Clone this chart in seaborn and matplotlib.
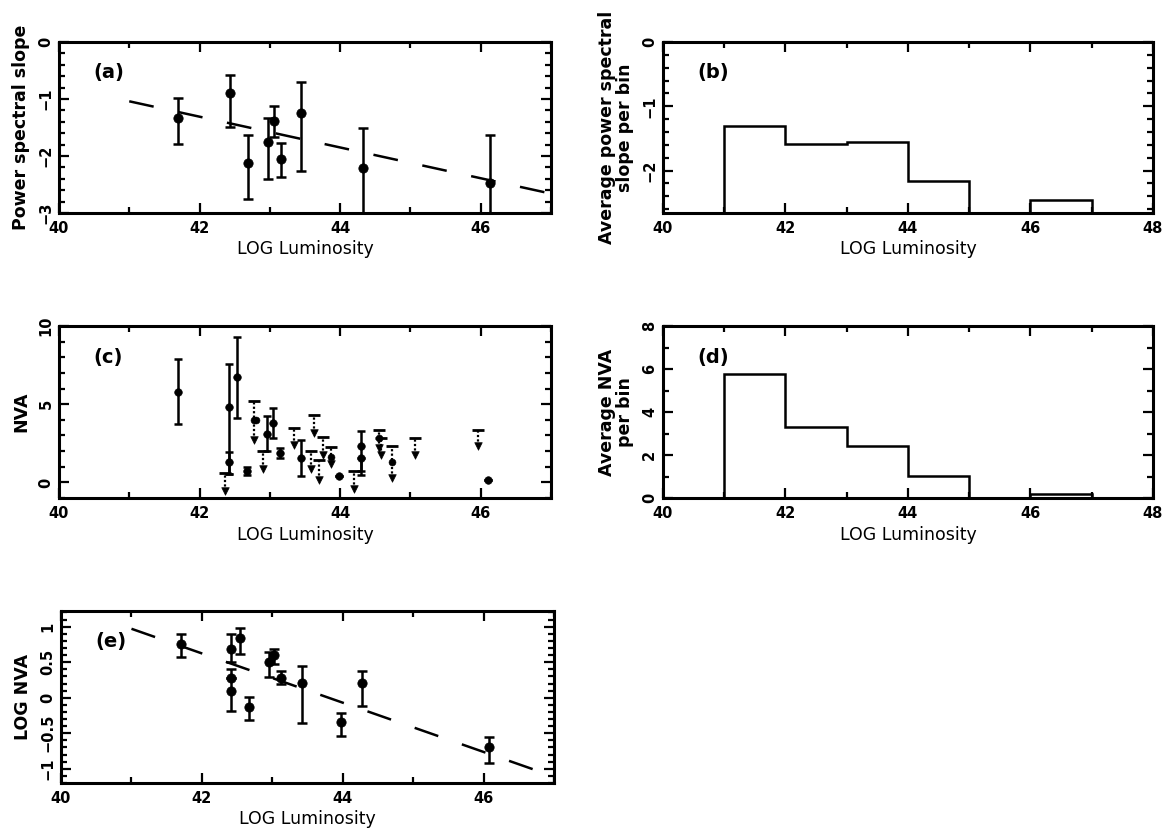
import numpy as np
import matplotlib
matplotlib.use("Agg")
import matplotlib.pyplot as plt
from matplotlib.ticker import MultipleLocator
import seaborn as sns

# ---- data ----
# (a) power spectral slope vs log luminosity
a_x = [41.69, 42.44, 42.69, 42.97, 43.06, 43.16, 43.45, 44.32, 46.13]
a_y = [-1.33, -0.90, -2.13, -1.75, -1.38, -2.06, -1.25, -2.21, -2.47]
a_hi = [-0.99, -0.58, -1.64, -1.33, -1.12, -1.78, -0.71, -1.51, -1.64]
a_lo = [-1.79, -1.49, -2.76, -2.40, -1.66, -2.37, -2.26, -3.30, -3.30]
a_fit_x = [41.0, 47.0]
a_fit_y = [-1.04, -2.66]

# (b) average slope per luminosity bin (nan = empty bin)
bin_edges = [41, 42, 43, 44, 45, 46, 47]
b_vals = [-1.31, -1.58, -1.55, -2.17, np.nan, -2.46]

# (c) NVA: detections (solid) and limits (dotted)
det_x = [41.69, 42.42, 42.42, 42.53, 42.67, 42.96, 43.04, 43.15, 43.44, 43.99, 44.30, 44.30, 46.10]
det_y = [5.77, 4.84, 1.28, 6.72, 0.75, 3.09, 3.83, 1.90, 1.57, 0.43, 2.34, 1.57, 0.17]
det_hi = [7.89, 7.55, 1.96, 9.28, 1.00, 4.26, 4.79, 2.23, 2.72, 0.43, 3.30, 1.57, 0.17]
det_lo = [3.72, 0.53, 0.53, 4.15, 0.50, 2.02, 2.87, 1.55, 0.43, 0.43, 0.47, 0.74, 0.17]
lim_x = [42.36, 42.77, 42.91, 43.35, 43.59, 43.63, 43.70, 43.75, 43.87, 44.20,
         44.55, 44.58, 44.74, 45.06, 45.96]
lim_hi = [0.57, 5.21, 1.98, 3.51, 1.98, 4.30, 1.43, 2.91, 2.28, 0.70,
          3.34, 2.87, 2.34, 2.87, 3.34]
lim_lo = [-0.53, 2.70, 0.85, 2.40, 0.85, 3.15, 0.17, 1.77, 1.17, -0.43,
          2.23, 1.77, 0.28, 1.77, 2.30]
mid_x = [42.77, 42.81, 43.87, 44.55, 44.74]
mid_y = [4.00, 3.96, 1.60, 2.83, 1.28]

# (d) average NVA per bin
d_vals = [5.76, 3.32, 2.41, 1.02, 0.0, 0.20]

# (e) log NVA
e_x = [41.70, 42.41, 42.41, 42.41, 42.54, 42.67, 42.95, 43.03, 43.13, 43.42, 43.97, 44.28, 46.07]
e_y = [0.76, 0.69, 0.28, 0.10, 0.84, -0.13, 0.50, 0.60, 0.28, 0.21, -0.34, 0.21, -0.70]
e_hi = [0.90, 0.89, 0.28, 0.40, 0.98, 0.01, 0.64, 0.68, 0.37, 0.45, -0.21, 0.38, -0.55]
e_lo = [0.57, 0.50, 0.28, -0.18, 0.62, -0.32, 0.29, 0.47, 0.20, -0.35, -0.54, -0.12, -0.92]
e_fit_x = [41.0, 47.0]
e_fit_y = [0.97, -1.11]

# ---- style ----
sns.set_style("ticks")
plt.rcParams['font.family'] = ['DejaVu Sans']
plt.rcParams.update({"text.color": "black", "axes.labelcolor": "black",
                     "xtick.color": "black", "ytick.color": "black",
                     "axes.edgecolor": "black"})

LW = 1.8
DASH = (10, 10)

fig = plt.figure(figsize=(11.65, 8.32), dpi=100)
ax_a = fig.add_axes([0.0506, 0.744, 0.4223, 0.2055])
ax_b = fig.add_axes([0.569, 0.744, 0.4206, 0.2055])
ax_c = fig.add_axes([0.0506, 0.4014, 0.4223, 0.2067])
ax_d = fig.add_axes([0.569, 0.4014, 0.4206, 0.2067])
ax_e = fig.add_axes([0.0524, 0.0589, 0.4232, 0.2067])


def fix_ticklabels(ax):
    for t in ax.get_yticklabels():
        t.set_verticalalignment("center")
        t.set_fontweight("bold")
    for t in ax.get_xticklabels():
        t.set_fontweight("bold")


def style_axes(ax, xlim, ylim, xmaj, ymaj, ymin, tag, ylabel):
    ax.set_xlim(*xlim)
    ax.set_ylim(*ylim)
    ax.xaxis.set_major_locator(MultipleLocator(xmaj))
    ax.xaxis.set_minor_locator(MultipleLocator(1))
    ax.yaxis.set_major_locator(MultipleLocator(ymaj))
    ax.yaxis.set_minor_locator(MultipleLocator(ymin))
    for s in ax.spines.values():
        s.set_linewidth(2.2)
        s.set_color("black")
    ax.tick_params(which="both", direction="in", top=True, right=True,
                   width=1.6, colors="black", labelsize=10.5)
    ax.tick_params(which="major", length=7)
    ax.tick_params(which="minor", length=4)
    ax.tick_params(axis="x", pad=6)
    ax.tick_params(axis="y", labelrotation=90, pad=4)
    fix_ticklabels(ax)
    ax.set_xlabel("LOG Luminosity", fontsize=12.5, labelpad=3, color="black")
    ax.set_ylabel(ylabel, fontsize=12.5, fontweight="bold", labelpad=6,
                  linespacing=1.0, color="black")
    ax.text(0.07, 0.82, tag, transform=ax.transAxes, fontsize=14,
            ha="left", va="center", fontweight="bold", color="black")


# (a)
ax_a.errorbar(a_x, a_y,
              yerr=[np.subtract(a_y, a_lo), np.subtract(a_hi, a_y)],
              fmt="none", ecolor="black", elinewidth=LW, capsize=3.5, capthick=LW)
sns.scatterplot(x=a_x, y=a_y, ax=ax_a, color="black", s=45, edgecolor="black", zorder=3)
sns.lineplot(x=a_fit_x, y=a_fit_y, ax=ax_a, color="black", lw=LW, dashes=False)
ax_a.lines[-1].set_dashes(DASH)
style_axes(ax_a, (40, 47), (-3, 0), 2, 1, 0.2, "(a)", "Power spectral slope")

# (b)
b_ylim = (-2.66, 0)
b_plot = np.where(np.isnan(b_vals), b_ylim[0], b_vals)
ax_b.stairs(b_plot, bin_edges, baseline=b_ylim[0], color="black", lw=LW)
style_axes(ax_b, (40, 48), b_ylim, 2, 1, 0.2, "(b)",
           "Average power spectral\nslope per bin")

# (c)
ax_c.errorbar(det_x, det_y,
              yerr=[np.subtract(det_y, det_lo), np.subtract(det_hi, det_y)],
              fmt="none", ecolor="black", elinewidth=LW, capsize=3, capthick=LW)
sns.scatterplot(x=det_x, y=det_y, ax=ax_c, color="black", s=30, edgecolor="black", zorder=3)
ax_c.vlines(lim_x, lim_lo, lim_hi, colors="black", linestyles=(0, (1, 1)), lw=1.6)
sns.scatterplot(x=lim_x, y=lim_hi, ax=ax_c, marker="_", color="black", s=80,
                linewidth=2, zorder=3)
sns.scatterplot(x=lim_x, y=lim_lo, ax=ax_c, marker="v", color="black", s=30,
                edgecolor="black", zorder=3)
sns.scatterplot(x=mid_x, y=mid_y, ax=ax_c, color="black", s=25, edgecolor="black", zorder=3)
style_axes(ax_c, (40, 47), (-1, 10), 2, 5, 1, "(c)", "NVA")

# (d)
ax_d.stairs(d_vals, bin_edges, baseline=0, color="black", lw=LW)
style_axes(ax_d, (40, 48), (0, 8), 2, 2, 1, "(d)", "Average NVA\nper bin")

# (e)
ax_e.errorbar(e_x, e_y,
              yerr=[np.subtract(e_y, e_lo), np.subtract(e_hi, e_y)],
              fmt="none", ecolor="black", elinewidth=LW, capsize=3.5, capthick=LW)
sns.scatterplot(x=e_x, y=e_y, ax=ax_e, color="black", s=45, edgecolor="black", zorder=3)
sns.lineplot(x=e_fit_x, y=e_fit_y, ax=ax_e, color="black", lw=LW, dashes=False)
ax_e.lines[-1].set_dashes(DASH)
style_axes(ax_e, (40, 47), (-1.2, 1.22), 2, 0.5, 0.1, "(e)", "LOG NVA")
ax_e.yaxis.set_major_formatter(plt.FuncFormatter(
    lambda v, p: ("%g" % v).replace("-", "\u2212")))
fix_ticklabels(ax_e)

fig.savefig("out.png", dpi=100)
